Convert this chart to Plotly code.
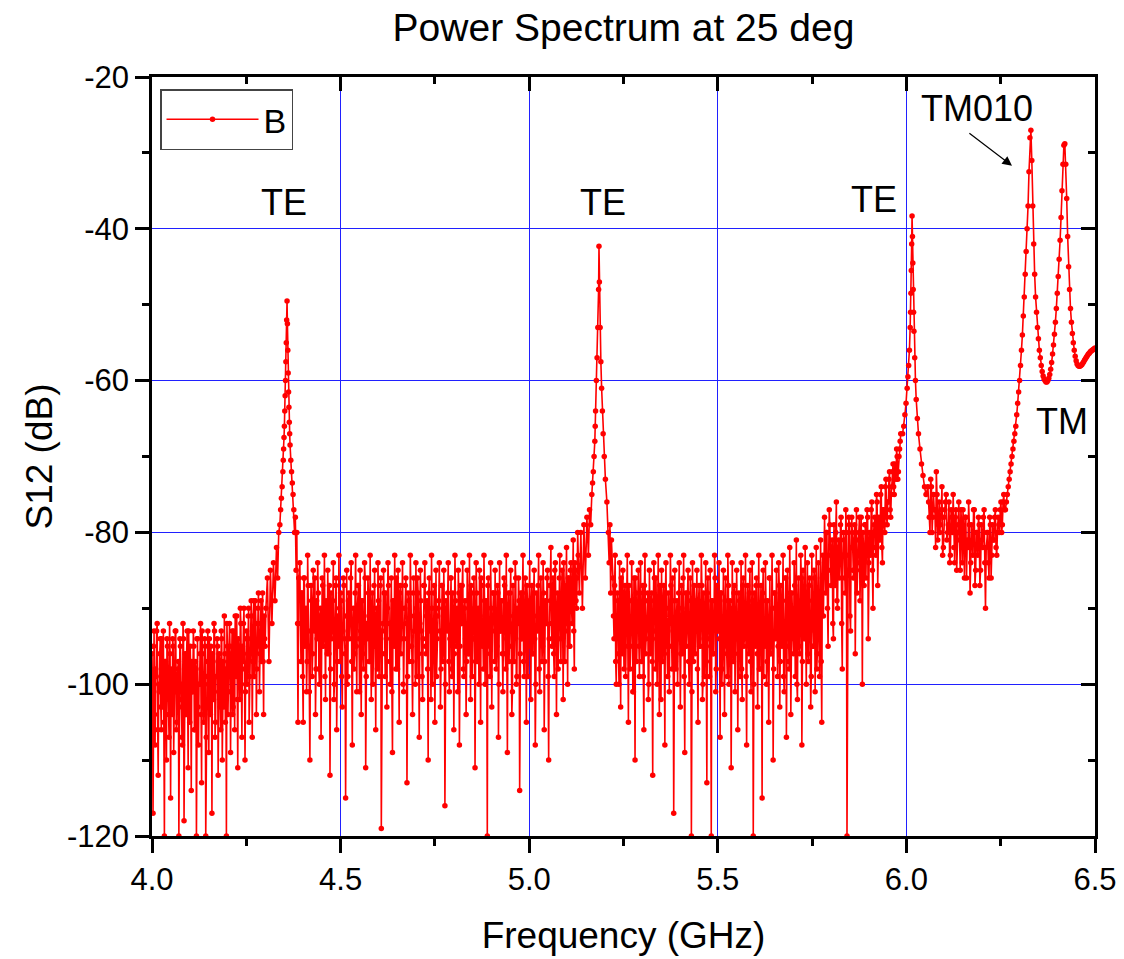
import numpy as np
import plotly.graph_objects as go

# ---------------- data (dB) ----------------
# Noise regions are given as two interleaved sample lists (even / odd samples).
# noise floor 4.00-4.30 GHz
seg_a_range = (4.000, 4.300)
seg_a_even = [
    -96, -117, -93, -108, -99, -92, -112, -101, -94, -106, -103, -93, -120, -97, -110, -95, -104, -92, -115, -99,
    -94, -109, -101, -93, -105, -98, -120, -94, -102, -107, -92, -118, -96, -104, -93, -111, -99, -95, -114, -101,
    -93, -106, -97, -120, -94, -108, -100, -92, -113, -96, -105, -94, -120, -99, -93, -109, -101, -95, -117, -97,
    -92, -107, -99, -94, -112, -96, -103, -93, -110, -97, -91, -105, -120, -95, -101, -92, -109, -96, -104, -93,
    -106, -98, -91, -111, -95, -102, -92, -107, -97, -90, -110, -94, -100, -91, -105, -96, -89, -107, -93, -99,
    -89, -104, -95, -88, -101, -92, -97, -88, -104, -94,
]
seg_a_odd = [
    -101, -95, -104, -98, -93, -106, -100, -96, -103, -94, -99, -105, -97, -102, -94, -100, -107, -96, -98, -104, -95, -101, -93, -106, -99,
    -97, -103, -95, -100, -108, -94, -98, -104, -96, -102, -93, -105, -99, -97, -101, -95, -106, -98, -94, -103, -100, -96, -104, -93, -99,
    -102, -95, -107, -97, -100, -94, -104, -98, -96, -102, -93, -105, -99, -95, -101, -97, -106, -94, -100, -103, -96, -98, -92, -104, -99,
    -95, -101, -93, -103, -97, -91, -99, -102, -94, -97, -90, -100, -95, -92, -98, -101, -93, -96, -90, -99, -94, -91, -97, -89, -95,
    -92, -98, -90, -94, -96, -89, -93, -97, -91, -95,
]
# first TE resonance
te1_f = [4.302, 4.306, 4.310, 4.314, 4.318, 4.322, 4.326, 4.330, 4.333, 4.336,
         4.339, 4.341, 4.343, 4.345, 4.347, 4.348, 4.349, 4.350, 4.351, 4.352,
         4.353, 4.354, 4.355, 4.356, 4.357, 4.358, 4.359, 4.360, 4.361, 4.362,
         4.363, 4.364, 4.365, 4.366, 4.368, 4.370, 4.372, 4.374, 4.376, 4.378,
         4.380, 4.382, 4.384, 4.386, 4.387, 4.389]
te1_db = [-90, -86, -97, -85, -92, -84, -89, -82, -86, -80,
          -79, -77, -75.5, -74, -72, -70.5, -69, -67.5, -66, -64,
          -62, -60, -57.5, -55, -52, -49.5, -52.5, -56, -59, -61.5,
          -63.5, -65.5, -67, -68.5, -70.5, -72, -73.5, -75, -77, -80,
          -78, -85, -80, -92, -105, -86]
# noise floor 4.39-5.13 GHz
seg_b_range = (4.392, 5.130)
seg_b_even = [
    -84, -97, -88, -105, -86, -92, -101, -83, -95, -110, -87, -99, -85, -93, -104, -89, -84, -98, -91, -107, -86, -95, -83, -102, -90,
    -85, -96, -112, -88, -93, -84, -100, -87, -106, -91, -83, -97, -89, -103, -86, -94, -115, -85, -99, -88, -92, -84, -108, -90, -96,
    -83, -101, -87, -94, -85, -104, -89, -98, -84, -111, -92, -86, -97, -83, -102, -88, -95, -85, -106, -90, -84, -99, -87, -119, -93,
    -85, -96, -88, -103, -84, -92, -100, -86, -109, -89, -83, -98, -91, -85, -105, -87, -94, -84, -101, -90, -86, -113, -88, -97, -83,
    -95, -104, -86, -91, -84, -99, -88, -107, -85, -93, -102, -87, -84, -96, -89, -110, -86, -92, -83, -100, -88, -105, -85, -94, -90,
    -84, -103, -87, -97, -85, -116, -89, -93, -84, -101, -86, -98, -88, -106, -83, -95, -90, -85, -108, -87, -92, -84, -99, -89, -104,
    -85, -96, -83, -102, -88, -94, -86, -111, -84, -97, -90, -85, -105, -87, -93, -83, -100, -89, -120, -86, -95, -84, -103, -88, -91,
    -85, -98, -87, -107, -84, -93, -89, -101, -86, -96, -83, -109, -88, -92, -85, -104, -87, -97, -84, -100, -90, -86, -114, -88, -94,
    -83, -99, -86, -105, -89, -91, -84, -102, -87, -96, -85, -108, -88, -93, -83, -101, -86, -97, -84, -106, -89, -92, -85, -110, -87,
    -82, -95, -86, -99, -84, -104, -88, -91, -83, -97, -85, -102, -87, -93, -82, -100, -86, -95, -84, -92, -81, -98, -85, -90, -80,
]
seg_b_odd = [
    -92, -88, -99, -86, -95, -90, -97, -87, -101, -93, -89, -96, -91, -86, -98, -94, -88, -100, -90, -95, -87, -93, -99, -89, -96,
    -91, -87, -98, -94, -89, -102, -92, -86, -97, -95, -90, -88, -99, -93, -87, -96, -91, -100, -89, -94, -86, -97, -92, -98, -88,
    -95, -90, -87, -101, -93, -89, -96, -91, -86, -99, -94, -88, -97, -92, -90, -100, -87, -95, -91, -98, -89, -93, -86, -96, -92,
    -88, -99, -94, -90, -87, -97, -92, -101, -89, -95, -91, -86, -98, -93, -88, -96, -90, -100, -94, -87, -92, -99, -89, -95, -91,
    -97, -88, -93, -100, -90, -86, -96, -92, -89, -99, -94, -87, -95, -91, -98, -88, -93, -102, -90, -96, -87, -94, -99, -91, -89,
    -93, -98, -87, -95, -90, -100, -92, -88, -97, -94, -86, -99, -91, -96, -89, -93, -101, -88, -95, -92, -87, -98, -90, -94, -97,
    -89, -96, -92, -87, -99, -94, -90, -97, -88, -93, -100, -91, -86, -95, -98, -89, -92, -96, -87, -94, -99, -90, -93, -88, -97,
    -91, -95, -88, -100, -93, -89, -96, -92, -87, -98, -94, -90, -97, -88, -95, -101, -91, -93, -86, -99, -92, -89, -96, -94, -88,
    -97, -90, -93, -87, -99, -92, -95, -89, -96, -88, -94, -100, -91, -87, -98, -93, -90, -95, -88, -97, -92, -86, -99, -94, -89,
    -92, -87, -96, -85, -93, -90, -98, -86, -94, -89, -91, -84, -97, -88, -92, -86, -95, -85, -90, -87, -93, -84, -89, -86, -83,
]
# second TE resonance
te2_f = [5.133, 5.137, 5.141, 5.145, 5.149, 5.153, 5.157, 5.160, 5.163, 5.166,
         5.168, 5.170, 5.172, 5.174, 5.175, 5.176, 5.178, 5.180, 5.182, 5.184,
         5.185, 5.186, 5.188, 5.190, 5.192, 5.194, 5.196, 5.199, 5.202, 5.206,
         5.210, 5.212, 5.214, 5.216, 5.218]
te2_db = [-88, -80, -90, -79, -86, -78, -83, -77, -79, -75,
          -73.5, -72, -70, -68, -66, -64, -60, -57, -53, -48,
          -42.3, -47, -53, -57.5, -61, -64, -67, -70, -73, -76,
          -80, -84, -79, -88, -81]
# noise floor 5.22-5.78 GHz
seg_c_range = (5.222, 5.780)
seg_c_even = [
    -86, -94, -83, -100, -88, -96, -84, -103, -90, -85, -98, -87, -92, -83, -105, -89, -95, -84, -101, -86, -110, -88, -93, -85, -99,
    -84, -97, -87, -106, -83, -94, -89, -102, -85, -96, -88, -112, -84, -93, -86, -100, -83, -104, -90, -85, -97, -87, -108, -84, -95,
    -88, -101, -83, -92, -86, -117, -85, -98, -89, -94, -84, -103, -87, -96, -83, -109, -88, -93, -85, -100, -86, -120, -84, -97, -89,
    -92, -85, -105, -87, -95, -83, -102, -88, -99, -84, -113, -86, -94, -85, -120, -89, -96, -83, -101, -87, -93, -84, -107, -88, -98,
    -85, -104, -86, -95, -83, -100, -89, -111, -84, -97, -87, -93, -85, -106, -88, -99, -84, -102, -86, -94, -83, -108, -87, -96, -85,
    -101, -84, -120, -88, -95, -86, -103, -83, -98, -87, -115, -85, -92, -84, -100, -89, -105, -86, -96, -83, -110, -88, -94, -85, -99,
    -84, -103, -87, -95, -83, -101, -86, -107, -85, -97, -82, -104, -88, -93, -84, -99, -81, -102, -86, -96, -83, -108, -85, -94, -82,
    -100, -84, -97, -86, -103, -83, -95, -85, -101, -82, -96, -84, -99, -81, -105, -83,
]
seg_c_odd = [
    -91, -87, -97, -93, -89, -100, -92, -86, -96, -94, -88, -99, -90, -95, -87, -98, -92, -89, -101, -93, -86, -97, -91, -95, -88,
    -94, -90, -99, -87, -96, -92, -88, -100, -93, -89, -97, -91, -86, -98, -94, -90, -95, -87, -102, -92, -89, -96, -88, -93, -99,
    -90, -95, -87, -98, -93, -89, -97, -91, -100, -88, -94, -96, -90, -86, -99, -92, -95, -88, -97, -93, -89, -101, -91, -87, -96,
    -93, -98, -89, -95, -91, -87, -100, -94, -90, -97, -88, -92, -99, -95, -89, -96, -91, -86, -98, -93, -90, -94, -88, -100, -92,
    -96, -89, -93, -99, -87, -95, -91, -97, -90, -88, -101, -94, -92, -96, -89, -93, -98, -87, -95, -91, -99, -90, -94, -88, -97,
    -92, -89, -100, -94, -87, -96, -91, -98, -90, -93, -88, -99, -95, -89, -97, -92, -86, -96, -94, -90, -98, -88, -93, -91, -95,
    -87, -97, -92, -89, -99, -93, -86, -95, -90, -98, -88, -94, -91, -96, -87, -93, -100, -89, -95, -91, -86, -97, -92, -88, -94,
    -90, -96, -87, -93, -99, -89, -95, -86, -92, -98, -88, -94, -90, -97, -86, -91,
]
# raised shoulder 5.78-5.985 GHz
seg_d_range = (5.783, 5.985)
seg_d_even = [
    -78, -88, -80, -95, -77, -85, -82, -92, -79, -87, -76, -90, -81, -84, -78, -98, -80, -86, -77, -120, -83, -79, -93, -78, -85,
    -81, -96, -77, -84, -80, -89, -78, -100, -82, -79, -86, -77, -94, -80, -83, -76, -90, -79, -82, -75, -87, -78, -81, -74, -84,
    -77, -80, -73, -79, -76, -72, -78, -74, -71, -75, -72, -69, -73, -70, -68,
]
seg_d_odd = [
    -84, -80, -90, -83, -79, -87, -81, -94, -85, -80, -89, -82, -86, -79, -92, -83, -81, -88, -80, -85, -78, -91, -82, -80, -86,
    -79, -84, -88, -81, -78, -85, -83, -80, -87, -79, -82, -78, -84, -81, -77, -85, -80, -78, -83, -76, -81, -79, -75, -82, -77,
    -79, -74, -78, -76, -73, -77, -75, -72, -74, -71, -73, -70, -72, -69, -67,
]
# third TE resonance
te3_f = [5.990, 5.993, 5.996, 5.999, 6.002, 6.004, 6.006, 6.008, 6.010, 6.011,
         6.012, 6.013, 6.014, 6.015, 6.016, 6.017, 6.018, 6.019, 6.020, 6.022,
         6.024, 6.026, 6.029, 6.032, 6.036, 6.040, 6.044, 6.048, 6.052]
te3_db = [-67, -66, -64.5, -63, -61, -59.5, -58, -56, -53, -51,
          -48.5, -45.5, -42, -38.3, -41, -44.5, -48, -51, -53.5, -57,
          -60, -62.5, -65, -67, -69, -71, -72.5, -74, -75]
# noise between TE and TM modes
seg_e_range = (6.057, 6.260)
seg_e_even = [
    -74, -78, -73, -80, -75, -77, -72, -81, -76, -79, -74, -82, -77, -75, -80, -76, -83, -78, -75, -84, -77, -80, -76, -85, -79,
    -77, -86, -78, -81, -76, -88, -79, -83, -77, -85, -80, -78, -87, -79, -82, -77, -90, -80, -84, -78, -86, -79, -81, -77, -83,
    -78, -80, -76, -79, -75,
]
seg_e_odd = [
    -76, -80, -74, -78, -77, -82, -75, -79, -80, -77, -83, -78, -76, -81, -79, -84, -77, -80, -82, -78, -85, -79, -81, -77, -84,
    -80, -78, -86, -82, -79, -84, -81, -77, -87, -80, -83, -79, -85, -81, -78, -84, -82, -80, -86, -79, -83, -81, -78, -82, -80,
    -79, -77, -80, -76, -77,
]
# TM010 and TM resonances, 6.2625-6.5 GHz on a uniform 2.5 MHz grid
tm_range = (6.2625, 6.500)
tm_db = [
    -77, -76, -75, -74, -73, -72, -71, -70, -69, -68,
    -67, -66, -64.5, -63, -61.5, -60, -58, -56, -54, -51.5,
    -49, -46, -43, -40, -37, -32.5, -28, -27, -31, -37,
    -42, -46, -49, -51, -53, -54.5, -56, -57, -58, -58.8,
    -59.4, -59.8, -60, -60.2, -60.2, -60, -59.7, -59.2, -58.5, -57.6,
    -56.5, -55.3, -53.9, -52.3, -50.5, -48.5, -46.3, -44, -41.5, -38.5,
    -35, -31.5, -29, -28.8, -31.5, -36, -41, -45, -48, -50.5,
    -52.3, -53.8, -55, -56, -56.8, -57.4, -57.8, -58, -58.1, -58.1,
    -58, -57.9, -57.7, -57.5, -57.3, -57.1, -56.9, -56.7, -56.5, -56.4,
    -56.2, -56.1, -56, -55.9, -55.8, -55.7,
]

x_ticks = [4.0, 4.5, 5.0, 5.5, 6.0, 6.5]
x_labels = ["4.0", "4.5", "5.0", "5.5", "6.0", "6.5"]
y_ticks = [-120, -100, -80, -60, -40, -20]
y_labels = ["-120", "-100", "-80", "-60", "-40", "-20"]


def noise(rng, even, odd):
    vals = [v for pair in zip(even, odd) for v in pair]
    return list(np.linspace(rng[0], rng[1], len(vals))), vals


fa, da = noise(seg_a_range, seg_a_even, seg_a_odd)
fb, db_ = noise(seg_b_range, seg_b_even, seg_b_odd)
fc, dc = noise(seg_c_range, seg_c_even, seg_c_odd)
fd, dd = noise(seg_d_range, seg_d_even, seg_d_odd)
fe, de = noise(seg_e_range, seg_e_even, seg_e_odd)
ftm = list(np.linspace(tm_range[0], tm_range[1], len(tm_db)))

freq = fa + te1_f + fb + te2_f + fc + fd + te3_f + fe + ftm
s12 = da + te1_db + db_ + te2_db + dc + dd + te3_db + de + tm_db

RED = "#FF0000"
FONT = "Liberation Sans, Arial, sans-serif"

fig = go.Figure()
fig.add_trace(go.Scatter(
    x=freq, y=s12, name="B", mode="lines+markers",
    line=dict(color=RED, width=1.6),
    marker=dict(color=RED, size=5.5),
))
# helper trace so that the mirrored (inward-tick) axes are drawn
fig.add_trace(go.Scatter(x=[None], y=[None], xaxis="x2", yaxis="y2",
                         showlegend=False, hoverinfo="skip"))

axis_common = dict(showline=True, linecolor="black", linewidth=2.5, mirror=True,
                   ticks="outside", ticklen=14, tickwidth=2.5, tickcolor="black",
                   showgrid=True, gridcolor="#2020FF", gridwidth=1,
                   zeroline=False, automargin=False,
                   tickfont=dict(size=31, color="black", family=FONT))

fig.update_layout(
    width=1124, height=959,
    margin=dict(l=152, r=29, t=77, b=123),
    paper_bgcolor="white", plot_bgcolor="white",
    font=dict(family=FONT, color="black"),
    title=dict(text="Power Spectrum at 25 deg", font=dict(size=39, color="black", family=FONT),
               x=0.5, xref="paper", xanchor="center", y=1 - 27 / 959, yref="container", yanchor="middle"),
    xaxis=dict(range=[4.0, 6.5], tickvals=x_ticks, ticktext=x_labels,
               minor=dict(ticks="outside", ticklen=7, tickwidth=2.5, tickcolor="black", dtick=0.25, tick0=4.0, showgrid=False),
               title=dict(text="Frequency (GHz)", font=dict(size=37, family=FONT, color="black"), standoff=27),
               ticklabelstandoff=0,
               **axis_common),
    yaxis=dict(range=[-120, -20], tickvals=y_ticks, ticktext=y_labels,
               minor=dict(ticks="outside", ticklen=7, tickwidth=2.5, tickcolor="black", dtick=10, tick0=-120, showgrid=False),
               title=dict(text="S12 (dB)", font=dict(size=37, family=FONT, color="black"), standoff=4),
               ticklabelstandoff=0,
               **axis_common),
    xaxis2=dict(overlaying="x", side="top", anchor="y2", range=[4.0, 6.5], tickvals=x_ticks,
                ticks="inside", ticklen=14, tickwidth=2.5, tickcolor="black", showticklabels=False,
                minor=dict(ticks="inside", ticklen=7, tickwidth=2.5, tickcolor="black", dtick=0.25, tick0=4.0, showgrid=False),
                showgrid=False, showline=False, zeroline=False, automargin=False),
    yaxis2=dict(overlaying="y", side="right", anchor="x2", range=[-120, -20], tickvals=y_ticks,
                ticks="inside", ticklen=14, tickwidth=2.5, tickcolor="black", showticklabels=False,
                minor=dict(ticks="inside", ticklen=7, tickwidth=2.5, tickcolor="black", dtick=10, tick0=-120, showgrid=False),
                showgrid=False, showline=False, zeroline=False, automargin=False),
    legend=dict(x=0.0085, y=0.984, xanchor="left", yanchor="top", bgcolor="white",
                bordercolor="#444444", borderwidth=1.5, itemwidth=92,
                font=dict(size=34, family=FONT, color="black")),
    showlegend=True,
)

ann_font = dict(size=36, family=FONT, color="black")
labels = [("TE", 4.351, -36.5), ("TE", 5.196, -36.6), ("TE", 5.914, -36.1),
          ("TM010", 6.186, -24.1), ("TM", 6.413, -65.4)]
for txt, ax_, ay_ in labels:
    fig.add_annotation(x=ax_, y=ay_, xref="x", yref="y", text=txt, showarrow=False,
                       font=ann_font, xanchor="center", yanchor="middle")
fig.add_annotation(x=6.280, y=-31.7, ax=6.163, ay=-27.25, xref="x", yref="y",
                   axref="x", ayref="y", text="", showarrow=True,
                   arrowhead=2, arrowsize=1.6, arrowwidth=1.2, arrowcolor="black")

fig.write_html("out.html", config={"displayModeBar": False},
               post_script="document.body.style.margin='0px';")
